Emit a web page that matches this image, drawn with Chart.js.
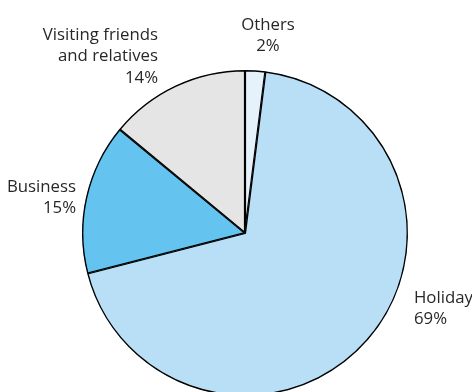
<!DOCTYPE html>
<html>
<head>
<meta charset="utf-8">
<script src="https://cdn.jsdelivr.net/npm/chart.js@4/dist/chart.umd.min.js"></script>
<style>
  html, body { margin: 0; padding: 0; background: #fff; overflow: hidden; }
  #wrap { width: 472px; height: 420px; position: relative; }
</style>
</head>
<body>
<div id="wrap"><canvas id="myChart"></canvas></div>
<script>
'use strict';

// data, clockwise from 12 o'clock
let categories = ['Others', 'Holiday', 'Business', 'Visiting friends and relatives'];
let shares = [2, 69, 15, 14];
let labelLines = [['Others', '2%'], ['Holiday', '69%'], ['Business', '15%'], ['Visiting friends', 'and relatives', '14%']];
let sliceColors = ['#e6f2fb', '#b9dff6', '#64c4ef', '#e5e5e5'];

// where each label sits (text placement only)
let labelPlace = [
  { x: 268, y: 25, align: 'center' },
  { x: 414, y: 298, align: 'left' },
  { x: 76, y: 187, align: 'right' },
  { x: 158, y: 35, align: 'right' }
];

let pieLabels = {
  id: 'pieLabels',
  afterDraw(chart) {
    let ctx = chart.ctx;
    ctx.save();
    ctx.fillStyle = '#2a2627';
    ctx.font = '16.8px "Open Sans"';
    ctx.textBaseline = 'middle';
    for (let i = 0; i < labelLines.length; i++) {
      let p = labelPlace[i];
      ctx.textAlign = p.align;
      for (let j = 0; j < labelLines[i].length; j++) {
        ctx.fillText(labelLines[i][j], p.x, p.y + j * 21.5);
      }
    }
    ctx.restore();
  }
};

let ctx = document.getElementById('myChart').getContext('2d');
let myChart = new Chart(ctx, {
  type: 'pie',
  data: {
    labels: categories,
    datasets: [{
      data: shares,
      backgroundColor: sliceColors,
      borderColor: '#000',
      borderWidth: 1.1,
      borderAlign: 'inner'
    }]
  },
  options: {
    responsive: true,
    maintainAspectRatio: false,
    animation: false,
    layout: { padding: { left: 82, right: 64, top: 70, bottom: 24 } },
    plugins: {
      legend: { display: false },
      tooltip: { enabled: false }
    }
  },
  plugins: [pieLabels]
});
</script>
</body>
</html>
